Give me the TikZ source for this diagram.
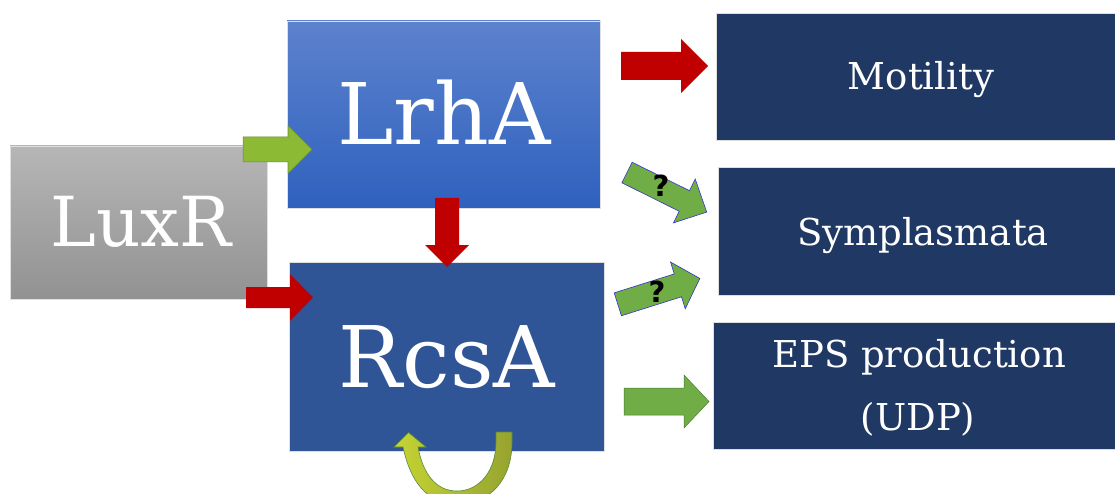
\documentclass[tikz,border=0pt]{standalone}
\usepackage{fontspec}
\setmainfont{DejaVu Serif}
\newfontfamily\qfont{DejaVu Sans}
\definecolor{grayT}{RGB}{182,182,182}
\definecolor{grayB}{RGB}{146,146,146}
\definecolor{lrhT}{RGB}{93,130,205}
\definecolor{lrhB}{RGB}{47,97,190}
\definecolor{rcs}{RGB}{47,85,151}
\definecolor{navy}{RGB}{32,56,100}
\definecolor{darkred}{RGB}{192,0,0}
\definecolor{gA}{RGB}{112,173,71}
\definecolor{gB}{RGB}{140,186,52}
\definecolor{cL}{RGB}{198,212,52}
\definecolor{cR}{RGB}{150,164,48}
\newcommand\blockarrow[8]{\begin{scope}[shift={(#1,#2)},rotate=#3]
\path[#8] (0,-#5)--(#4-#7,-#5)--(#4-#7,-#6)--(#4,0)--(#4-#7,#6)--(#4-#7,#5)--(0,#5)--cycle;
\end{scope}}
\begin{document}
\begin{tikzpicture}[x=1pt,y=-1pt,
  box/.style={draw=white!75!gray,line width=0.6pt,inner sep=0pt,minimum width=#1},
  big/.style={text=white,font=\fontsize{85}{90}\selectfont,anchor=base,inner sep=0pt},
  small/.style={text=white,font=\fontsize{37}{40}\selectfont,anchor=base,inner sep=0pt},
  redarr/.style={fill=darkred},
  grnarr/.style={fill=gA,draw=gA!70!black,line width=0.5pt},
  qarr/.style={fill=gA,draw=blue!60!gray,line width=0.6pt},
  qmark/.style={font=\qfont\bfseries\fontsize{29}{30}\selectfont,inner sep=0pt}]
\useasboundingbox (0,0) rectangle (1115,494);
\clip (0,0) rectangle (1115,494);
% boxes
\node[box=257pt,minimum height=153pt,top color=grayT,bottom color=grayB] (luxr) at (138.5,222.5) {};
\node[box=313pt,minimum height=187pt,top color=lrhT,bottom color=lrhB] (lrha) at (443.5,114.5) {};
\node[box=315pt,minimum height=189pt,fill=rcs] (rcsa) at (446.5,356.5) {};
\node[box=399pt,minimum height=127pt,fill=navy] (mot) at (916,76.5) {};
\node[box=397pt,minimum height=128pt,fill=navy] (sym) at (917,231) {};
\node[box=402pt,minimum height=127pt,fill=navy] (eps) at (914.5,385.5) {};
% texts
\node[big,font=\fontsize{69}{72}\selectfont] (tluxr) at (141,247) {LuxR};
\node[big] (tlrha) at (444,145) {LrhA};
\node[big] (trcsa) at (447,387) {RcsA};
\node[small] (tmot) at (921,90) {Motility};
\node[small] (tsym) at (923,245) {Symplasmata};
\node[small] (teps1) at (919,367) {EPS production};
\node[small] (teps2) at (918,430) {(UDP)};
% block arrows
\blockarrow{243}{149.5}{0}{69}{12.5}{24}{24}{fill=gB,draw=gB!75!black,line width=0.5pt}
\blockarrow{246}{297.5}{0}{67}{10.5}{23.5}{23}{redarr}
\blockarrow{447}{198}{-90}{69}{12}{22}{22}{redarr}
\blockarrow{621}{66}{0}{87}{14}{27}{27}{redarr}
\blockarrow{624}{401.5}{0}{85}{13.5}{26.5}{25}{grnarr}
\blockarrow{627}{172.5}{-26.4}{89}{11.5}{24.5}{25}{qarr}
\blockarrow{617.8}{304.3}{17.5}{86}{12}{24.5}{23}{qarr}
\node[qmark] (q1) at (661,186) {?};
\node[qmark] (q2) at (657,292) {?};
% self loop on RcsA
\shade[left color=cL,right color=cR,draw=gA!80!black,line width=0.6pt]
  (512,432) -- (512,442) .. controls (512,480) and (490,504) .. (457,504)
  .. controls (426,504) and (410,480) .. (403,447) -- (394,447) -- (408.5,432.5) -- (426,447) -- (418,447)
  .. controls (423,474) and (436,491) .. (457,491)
  .. controls (480,491) and (496,470) .. (496,442) -- (496,432) -- cycle;
\end{tikzpicture}
\end{document}
